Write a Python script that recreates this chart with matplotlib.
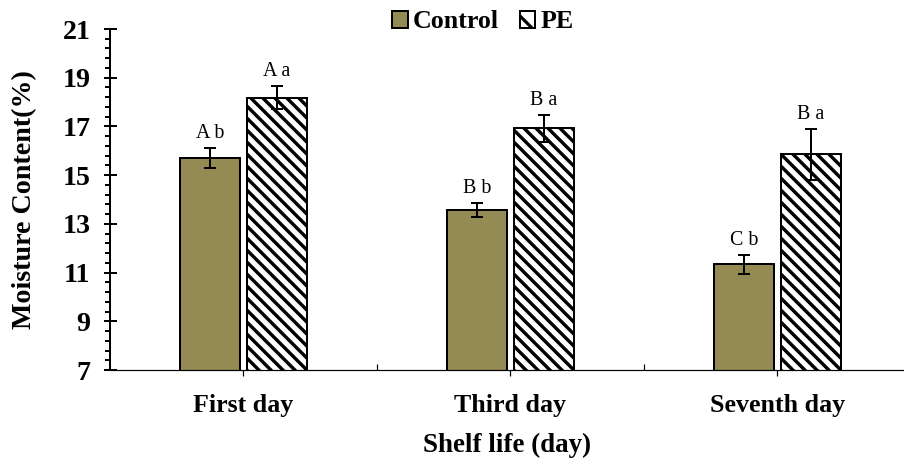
import matplotlib
matplotlib.use("Agg")
import matplotlib.pyplot as plt
import numpy as np
from matplotlib.collections import LineCollection
from matplotlib.patches import Patch, Rectangle
from matplotlib.transforms import IdentityTransform

days = ["First day", "Third day", "Seventh day"]
control = [15.70, 13.57, 11.34]
control_err = [0.41, 0.27, 0.38]
pe = [18.18, 16.92, 15.85]
pe_err = [0.46, 0.55, 1.05]
control_letters = ["A b", "B b", "C b"]
pe_letters = ["A a", "B a", "B a"]

plt.rcParams["font.family"] = ["Liberation Serif", "DejaVu Serif"]
plt.rcParams["hatch.linewidth"] = 3.2
plt.rcParams["hatch.color"] = "black"

DPI = 72
fig = plt.figure(figsize=(904 / DPI, 462 / DPI), dpi=DPI)
ax = fig.add_axes([110 / 904, 92 / 462, 794 / 904, 341 / 462])

x = np.arange(len(days))
width = 0.225
off = 0.125

ax.set_ylim(7, 21)
ax.set_xlim(-0.5, 2.474)

ax.bar(x - off, control, width, color="#948a54", edgecolor="black",
       linewidth=2, zorder=2)
pe_bars = ax.bar(x + off, pe, width, color="white", edgecolor="none", zorder=2)
ax.bar(x + off, pe, width, fill=False, edgecolor="black", linewidth=2, zorder=2.6)

# diagonal stripes, drawn in pixel space so the spacing matches the original
spacing = 12
y_floor = ax.transData.transform((0, ax.get_ylim()[0]))[1]
for bar in pe_bars:
    (x0, _), (x1, y1) = ax.transData.transform(
        [(bar.get_x(), bar.get_y()),
         (bar.get_x() + bar.get_width(), bar.get_y() + bar.get_height())])
    y0 = y_floor
    segs = []
    for c in np.arange(x0 + y0, x1 + y1 + spacing, spacing):
        segs.append([(x0 - 10, c - (x0 - 10)), (x1 + 10, c - (x1 + 10))])
    lc = LineCollection(segs, colors="black", linewidths=3.4,
                        transform=IdentityTransform(), zorder=2.5)
    ax.add_collection(lc, autolim=False)
    clip = Rectangle((x0, y0), x1 - x0, y1 - y0, transform=IdentityTransform())
    lc.set_clip_path(clip)

ax.errorbar(x - off, control, yerr=control_err, fmt="none", ecolor="black",
            elinewidth=2, capsize=6, capthick=2, zorder=3)
ax.errorbar(x + off, pe, yerr=pe_err, fmt="none", ecolor="black",
            elinewidth=2, capsize=6, capthick=2, zorder=3)

for xi, v, e, t in zip(x - off, control, control_err, control_letters):
    ax.annotate(t, (xi, v + e), xytext=(0, 5), textcoords="offset points",
                ha="center", va="bottom", fontsize=20)
for xi, v, e, t in zip(x + off, pe, pe_err, pe_letters):
    ax.annotate(t, (xi, v + e), xytext=(0, 5), textcoords="offset points",
                ha="center", va="bottom", fontsize=20)

ax.set_yticks(np.arange(7, 22, 2))
ax.set_yticks(np.arange(7, 21.01, 0.4), minor=True)
ax.set_xticks(x)
ax.set_xticks([0.5, 1.5], minor=True)
ax.set_xticklabels(days, fontsize=26, fontweight="bold")
for lab in ax.get_yticklabels():
    lab.set_fontsize(28)
    lab.set_fontweight("bold")

ax.tick_params(axis="y", which="major", direction="inout", length=13, width=2, pad=13)
ax.tick_params(axis="y", which="minor", direction="out", length=5, width=2)
ax.tick_params(axis="x", which="major", direction="out", length=6, width=1.2, pad=18)
ax.tick_params(axis="x", which="minor", direction="in", length=6, width=1.2)

for s in ["top", "right"]:
    ax.spines[s].set_visible(False)
ax.spines["left"].set_linewidth(2)
ax.spines["bottom"].set_linewidth(1.2)

ax.set_ylabel("Moisture Content(%)", fontsize=28, fontweight="bold", labelpad=25)
ax.set_xlabel("Shelf life (day)", fontsize=27, fontweight="bold", labelpad=16)

handles = [Patch(facecolor="#948a54", edgecolor="black", linewidth=2),
           Patch(facecolor="white", edgecolor="black", linewidth=2, hatch="\\")]
fig.legend(handles, ["Control", "PE"], loc="center",
           bbox_to_anchor=(483 / 904, 1 - 22 / 462), ncol=2,
           frameon=False, prop={"size": 26, "weight": "bold"},
           handlelength=0.6, handleheight=0.6, handletextpad=0.2,
           columnspacing=0.8)

fig.savefig("out.png", dpi=DPI)
